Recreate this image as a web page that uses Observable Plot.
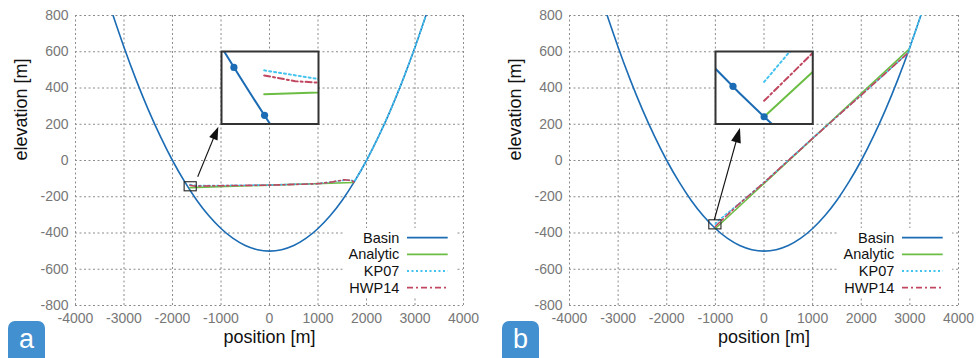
<!DOCTYPE html>
<html><head><meta charset="utf-8">
<script src="https://cdn.jsdelivr.net/npm/d3@7"></script>
<script src="https://cdn.jsdelivr.net/npm/@observablehq/plot@0.6"></script>
<style>
body{margin:0;background:#fff;font-family:"Liberation Sans",Arial,Helvetica,sans-serif;}
#wrap{display:flex;width:977px;height:358px;overflow:hidden}
.panel{position:relative;height:358px;overflow:hidden;flex:none}
.panel svg{display:block}
.badge{position:absolute;top:321px;width:37px;height:44px;border-radius:7px;background:#4290d0;color:#fff;font-size:27px;line-height:37px;text-align:center}
.abs{position:absolute;background:#fff}
</style></head><body><div id="wrap"></div><script>
const xTicks = [-4000,-3000,-2000,-1000,0,1000,2000,3000,4000];
const yTicks = [-800,-600,-400,-200,0,200,400,600,800];
const seriesNames = ["Basin","Analytic","KP07","HWP14"];
const seriesColors = ["#1b6cb4","#6cbd44","#44c3ef","#c0475f"];
const seriesDash = [null,null,"2,2.5","6,3,2,3"];

// basin (bathymetry)
const basinX = [-3225,-3000,-2750,-2500,-2250,-2000,-1750,-1500,-1250,-1000,-750,-500,-250,0,250,500,750,1000,1250,1500,1750,2000,2250,2500,2750,3000,3225];
const basinY = [800,625,445,281,133,0,-117,-219,-305,-375,-430,-469,-492,-500,-492,-469,-430,-375,-305,-219,-117,0,133,281,445,625,800];

// panel a
const aAnalyticX = [-1640,1735];
const aAnalyticY = [-149.5,-121];
const aKP07X = [-1640,-1500,-1000,0,1000,1300,1550,1700,1750,2000,2250,2500,2750,3000,3225];
const aKP07Y = [-133,-139,-138,-135,-128,-118,-108,-110,-117,0,133,281,445,625,800];
const aHWP14X = [-1640,-1560,-1500,-1000,0,1000,1300,1550,1700,1740];
const aHWP14Y = [-136.5,-140.5,-141.5,-139,-136,-128,-118,-106,-110,-121];
const aNodesX = [-1718,-1639];
const aNodesY = [-131,-164];

// panel b
const bAnalyticX = [-1000,2985];
const bAnalyticY = [-375,614];
const bKP07X = [-1000,-937,-500,0,1000,2000,2955,3000,3100,3225];
const bKP07Y = [-351,-331,-235,-121,123,362,592,625,701,800];
const bHWP14X = [-1000,-875,-500,0,1000,2000,2955];
const bHWP14Y = [-364,-331,-237,-122,122,361,592];
const bNodesX = [-1080,-1000];
const bNodesY = [-354,-375];

// zoom windows, inset placement, arrows (data coordinates)
const aZoom = {x1:-1750,x2:-1500,y1:-170,y2:-120};
const bZoom = {x1:-1125,x2:-875,y1:-380,y2:-330};
const insetBox = {x1:-1000,x2:1000,y1:200,y2:600};
const aArrow = {x1:-1470,y1:-92,x2:-1045,y2:184,head:13,headW:9};
const bArrow = {x1:-1013,y1:-331,x2:-484,y2:178,head:15,headW:10};

const zip = (X,Y) => X.map((x,i)=>({x, y:Y[i]}));
const FONT = '"Liberation Sans", Arial, Helvetica, sans-serif';

function seriesMarks(cfg, sw, dotDash) {
  return [
    Plot.line(zip(basinX,basinY), {x:"x",y:"y",stroke:seriesColors[0],strokeWidth:sw,curve:"natural",clip:true}),
    Plot.line(zip(cfg.aX,cfg.aY), {x:"x",y:"y",stroke:seriesColors[1],strokeWidth:sw,clip:true}),
    Plot.line(zip(cfg.kX,cfg.kY), {x:"x",y:"y",stroke:seriesColors[2],strokeWidth:sw,strokeDasharray:dotDash,clip:true}),
    Plot.line(zip(cfg.hX,cfg.hY), {x:"x",y:"y",stroke:seriesColors[3],strokeWidth:sw,strokeDasharray:seriesDash[3],clip:true})
  ];
}

function arrowMark(ar) {
  return (index, scales) => {
    const x1=scales.x(ar.x1), y1=scales.y(ar.y1), x2=scales.x(ar.x2), y2=scales.y(ar.y2);
    const dx=x2-x1, dy=y2-y1, L=Math.hypot(dx,dy), ux=dx/L, uy=dy/L;
    const hw=ar.headW/2, bx=x2-ux*ar.head, by=y2-uy*ar.head;
    const g=d3.create("svg:g");
    g.append("line").attr("x1",x1).attr("y1",y1).attr("x2",bx+ux*2).attr("y2",by+uy*2)
      .attr("stroke","#111").attr("stroke-width",1.1);
    g.append("path").attr("d",`M${x2},${y2}L${bx-uy*hw},${by+ux*hw}L${bx+uy*hw},${by-ux*hw}Z`).attr("fill","#111");
    return g.node();
  };
}

function panel(cfg) {
  const div = document.createElement("div");
  div.className = "panel";
  div.style.width = cfg.width + "px";
  const grid = {stroke:"#8c8c8c",strokeOpacity:1,strokeDasharray:"2,2.5",strokeWidth:1};
  const main = Plot.plot({
    width: cfg.width, height: 358,
    marginLeft: cfg.ml, marginRight: cfg.mr, marginTop: 15, marginBottom: 53,
    x: {domain:[-4000,4000]}, y: {domain:[-800,800]},
    style: {fontFamily: FONT, background: "transparent", overflow: "visible"},
    marks: [
      Plot.gridX(xTicks, grid),
      Plot.gridY(yTicks, grid),
      Plot.axisX(xTicks, {tickSize:0, tickPadding:8, fontSize:14, fill:"#777", label:null, tickFormat:d=>String(d)}),
      Plot.axisY(yTicks, {tickSize:0, tickPadding:7, fontSize:14, fill:"#777", label:null, tickFormat:d=>String(d)}),
      Plot.text(["position [m]"], {frameAnchor:"bottom", dy:37, fontSize:18, fill:"#111"}),
      Plot.text(["elevation [m]"], {frameAnchor:"left", dx:-54, rotate:-90, fontSize:18, fill:"#111"}),
      ...seriesMarks(cfg, 1.6, "2,2.5"),
      Plot.rect([cfg.zoom], {x1:"x1",x2:"x2",y1:"y1",y2:"y2",fill:"none",stroke:"#222",strokeWidth:1.1}),
      arrowMark(cfg.arrow)
    ]
  });
  div.appendChild(main);
  const sx = main.scale("x"), sy = main.scale("y");

  // inset
  const left = sx.apply(insetBox.x1), top = sy.apply(insetBox.y2);
  const w = sx.apply(insetBox.x2) - left, h = sy.apply(insetBox.y1) - top;
  const inset = Plot.plot({
    width: w, height: h, margin: 0,
    x: {domain:[cfg.zoom.x1,cfg.zoom.x2], axis:null},
    y: {domain:[cfg.zoom.y1,cfg.zoom.y2], axis:null},
    style: {background:"#fff", overflow:"visible"},
    marks: [
      ...seriesMarks(cfg, 2, "2,3"),
      Plot.dot(zip(cfg.nX,cfg.nY), {x:"x",y:"y",r:3.6,fill:seriesColors[0]}),
      Plot.frame({stroke:"#333",strokeWidth:2})
    ]
  });
  inset.classList.add("abs");
  inset.style.left = left + "px"; inset.style.top = top + "px";
  div.appendChild(inset);

  // legend
  const fr = cfg.width - cfg.mr;
  const lg = d3.create("svg").attr("width",114).attr("height",69).attr("class","abs")
    .style("left",(fr-120)+"px").style("top","228px");
  const rowY = [9.7,26.3,43,59.7];
  seriesNames.forEach((name,i) => {
    lg.append("text").attr("x",56.3).attr("y",rowY[i]).attr("dy","0.35em").attr("text-anchor","end")
      .attr("font-family",FONT).attr("font-size",14.5).attr("fill","#111").text(name);
    lg.append("line").attr("x1",64).attr("x2",104.7).attr("y1",rowY[i]).attr("y2",rowY[i])
      .attr("stroke",seriesColors[i]).attr("stroke-width",1.8)
      .attr("stroke-dasharray",seriesDash[i]);
  });
  div.appendChild(lg.node());

  // badge
  const b = document.createElement("div");
  b.className = "badge"; b.style.left = cfg.badgeLeft + "px"; b.textContent = cfg.badge;
  div.appendChild(b);
  return div;
}

const wrap = document.getElementById("wrap");
wrap.appendChild(panel({width:490, ml:75, mr:27, aX:aAnalyticX, aY:aAnalyticY, kX:aKP07X, kY:aKP07Y, hX:aHWP14X, hY:aHWP14Y,
  nX:aNodesX, nY:aNodesY, zoom:aZoom, arrow:aArrow, badge:"a", badgeLeft:8}));
wrap.appendChild(panel({width:487, ml:79, mr:19, aX:bAnalyticX, aY:bAnalyticY, kX:bKP07X, kY:bKP07Y, hX:bHWP14X, hY:bHWP14Y,
  nX:bNodesX, nY:bNodesY, zoom:bZoom, arrow:bArrow, badge:"b", badgeLeft:12}));
</script></body></html>
